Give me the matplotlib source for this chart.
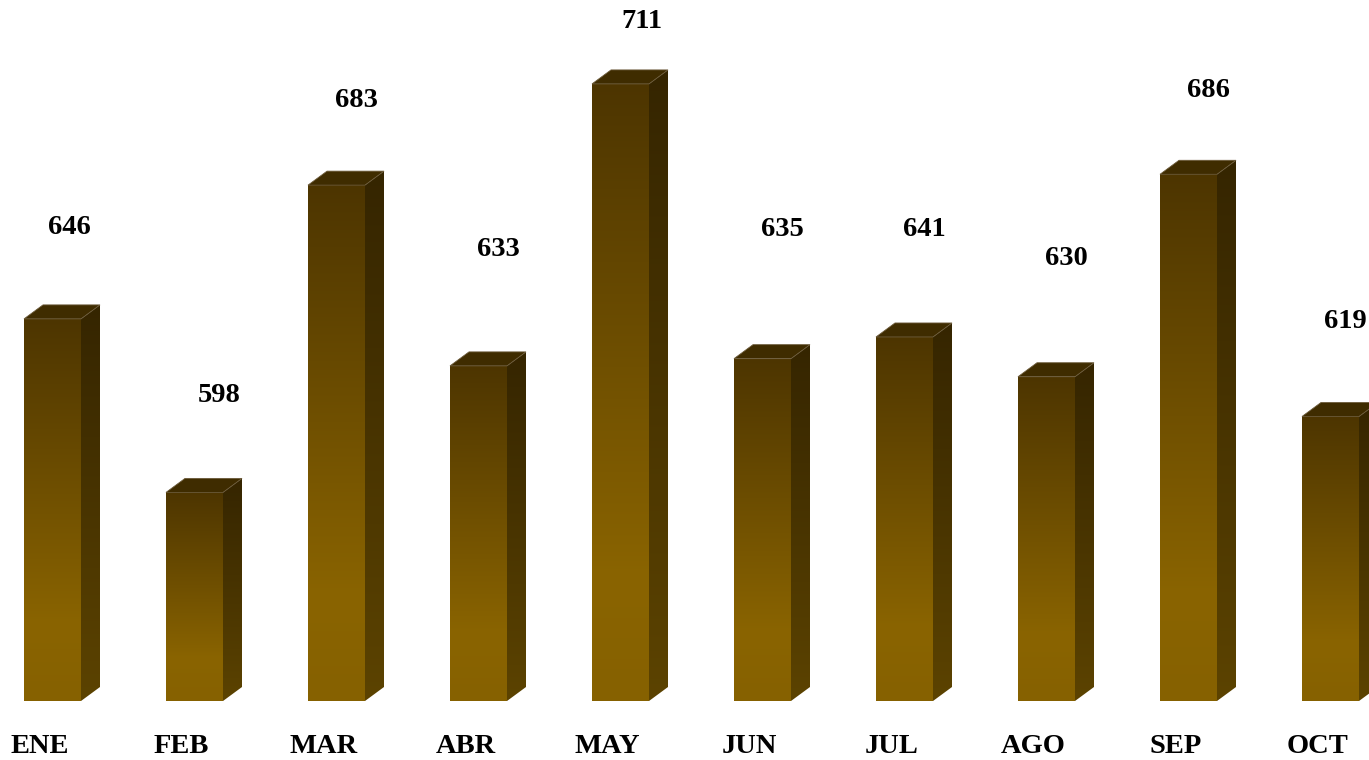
import numpy as np
import matplotlib
matplotlib.use("Agg")
import matplotlib.pyplot as plt
from matplotlib.colors import LinearSegmentedColormap
from matplotlib.patches import Polygon

# ---- data ----
months = ["ENE", "FEB", "MAR", "ABR", "MAY", "JUN", "JUL", "AGO", "SEP", "OCT"]
values = [646, 598, 683, 633, 711, 635, 641, 630, 686, 619]

# ---- layout / style ----
base = 540.3
label_dy = [25.3, 26.8, 23.3, 32.3, 17.3, 35.8, 29.8, 32.8, 23.3, 26.3]   # value-label offsets above bar
label_dx = [17, 25, 20, 20, 21.5, 20, 20, 20, 20, 15]                      # value-label offsets (px)
bar_w = 57 / 142
depth_x = 19 / 142
depth_y = 14 / 3.615

plt.rcParams['font.family'] = ['Liberation Serif', 'DejaVu Serif']

fig = plt.figure(figsize=(13.69, 7.6), dpi=100)
ax = fig.add_axes([0, 0, 1, 1])
ax.axis("off")

front_cmap = LinearSegmentedColormap.from_list(
    "front", [(0.0, "#4d3500"), (0.8, "#8a6400"), (1.0, "#866100")])
side_cmap = LinearSegmentedColormap.from_list(
    "side", [(0.0, "#352500"), (1.0, "#5c4300")])
grad = np.linspace(0, 1, 256).reshape(-1, 1)

x = np.arange(len(values))
heights = [v - base for v in values]
bars = ax.bar(x, heights, width=bar_w, bottom=base, color="none",
              edgecolor="none", zorder=2)

for i, (b, v) in enumerate(zip(bars, values)):
    x0, x1 = b.get_x(), b.get_x() + b.get_width()
    y0, y1 = base, v
    # front face gradient (row 0 = top of bar)
    im = ax.imshow(grad, cmap=front_cmap, aspect="auto", origin="upper",
                   extent=(x0, x1, y0, y1), zorder=2, interpolation="bilinear")
    im.set_clip_path(b)
    # side face
    side = Polygon([(x1, y0), (x1 + depth_x, y0 + depth_y),
                    (x1 + depth_x, y1 + depth_y), (x1, y1)],
                   closed=True, facecolor="none", edgecolor="none")
    ax.add_patch(side)
    im2 = ax.imshow(grad, cmap=side_cmap, aspect="auto", origin="upper",
                    extent=(x1, x1 + depth_x, y0, y1 + depth_y), zorder=2,
                    interpolation="bilinear")
    im2.set_clip_path(side)
    # top face
    top = Polygon([(x0, y1), (x0 + depth_x, y1 + depth_y),
                   (x1 + depth_x, y1 + depth_y), (x1, y1)],
                  closed=True, facecolor="#3f2c00", edgecolor="#6b5a3a",
                  linewidth=0.6, zorder=3)
    ax.add_patch(top)
    # value label
    ax.text(i + label_dx[i] / 142, v + label_dy[i], str(v), ha="center", va="center",
            fontsize=20.5, fontweight="bold", color="black", zorder=4)
    # category label
    ax.text(i - 13 / 142, base - 45 / 3.615, months[i], ha="center",
            va="center", fontsize=20.5, fontweight="bold", color="black", zorder=4)

ax.set_xlim(-52.5 / 142, (1369 - 52.5) / 142)
ax.set_ylim(base - 59 / 3.615, base + 701 / 3.615)

fig.savefig("out.png", dpi=100, facecolor="white")
